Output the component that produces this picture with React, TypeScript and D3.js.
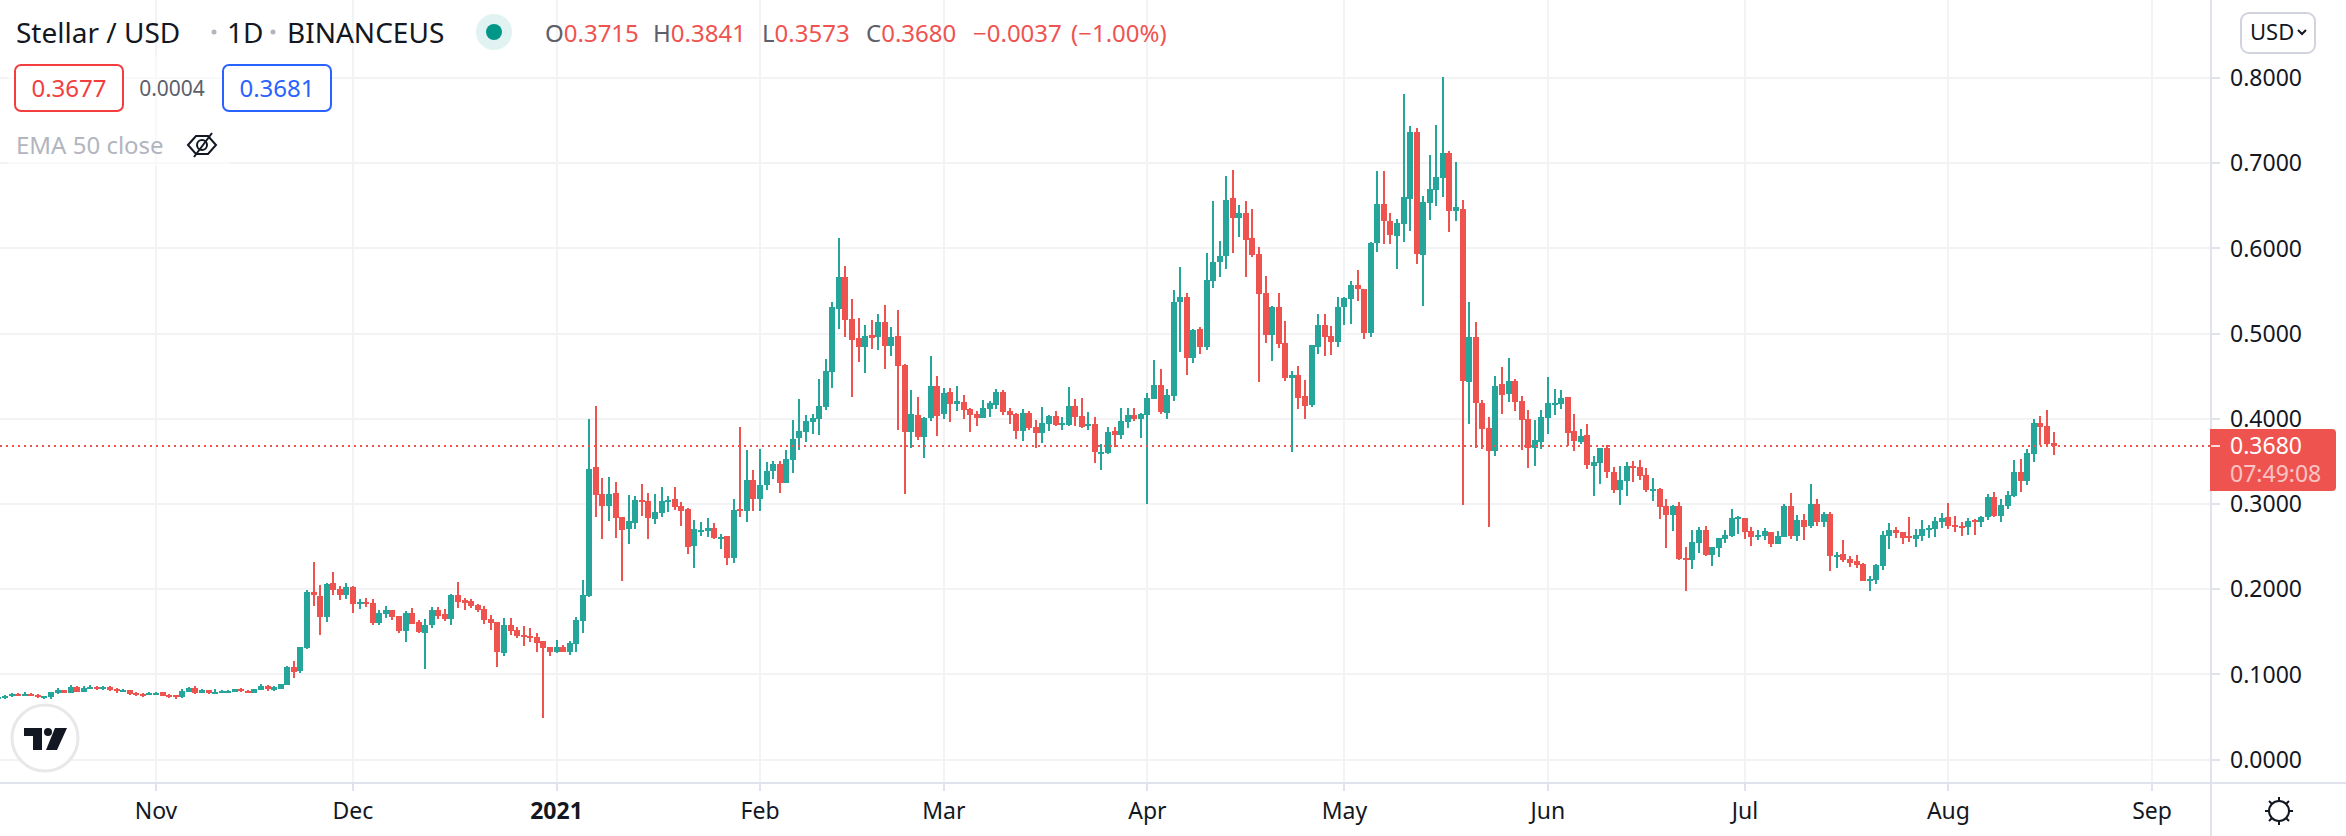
import React from "react";
import * as d3 from "d3";

type Bar = [number, number, number, number];

// Daily [open, high, low, close], month by month.
const oct2020: Bar[] = [
  [.0718,.0735,.0706,.0729],[.0718,.0753,.0706,.0741],[.0741,.0776,.0729,.0765],[.0765,.0776,.0741,.0753],[.0753,.0788,.0741,.0765],[.0765,.0776,.0741,.0753],
  [.0753,.0765,.0718,.0729],[.0718,.0741,.0706,.0741],[.0729,.0788,.0706,.0788],[.0776,.0835,.0765,.0812],[.0812,.0812,.0776,.0776],[.0776,.0871,.0776,.0847],
  [.0847,.0859,.0788,.0788],[.0788,.0859,.0788,.0835],[.0824,.0871,.0824,.0847],[.0847,.0859,.0812,.0824],[.0824,.0859,.0812,.0847],[.0847,.0859,.0800,.0812],
  [.0824,.0835,.0776,.0800],[.0788,.0824,.0788,.0812],[.0812,.0812,.0753,.0765],[.0776,.0788,.0741,.0753],[.0765,.0776,.0729,.0753],[.0753,.0788,.0753,.0776],
];
const nov2020: Bar[] = [
  [.0765,.0788,.0753,.0776],[.0788,.0788,.0741,.0741],[.0753,.0765,.0718,.0741],[.0753,.0753,.0706,.0729],[.0729,.0824,.0718,.0800],[.0788,.0847,.0788,.0835],
  [.0835,.0859,.0765,.0776],[.0776,.0824,.0776,.0812],[.0812,.0812,.0765,.0776],[.0776,.0824,.0765,.0788],[.0776,.0812,.0776,.0800],[.0788,.0812,.0776,.0800],
  [.0788,.0824,.0788,.0824],[.0824,.0835,.0788,.0800],[.0800,.0812,.0776,.0788],[.0776,.0824,.0776,.0824],[.0812,.0882,.0812,.0859],[.0859,.0871,.0800,.0824],
  [.0812,.0859,.0800,.0847],[.0824,.0882,.0824,.0882],[.0871,.1094,.0871,.1082],[.1082,.1153,.0953,.1024],[.1035,.1318,.1012,.1318],[.1306,.1988,.1294,.1965],
  [.1965,.2318,.1800,.1929],[.1918,.2047,.1459,.1671],[.1671,.2071,.1612,.2059],[.2071,.2200,.1929,.1988],[.2000,.2035,.1871,.1929],[.1929,.2071,.1882,.2024],
];
const dec2020: Bar[] = [
  [.2024,.2035,.1718,.1824],[.1824,.1882,.1765,.1847],[.1847,.1894,.1788,.1835],[.1835,.1882,.1576,.1600],[.1600,.1753,.1576,.1718],[.1706,.1800,.1659,.1753],
  [.1753,.1753,.1635,.1671],[.1682,.1682,.1482,.1506],[.1506,.1741,.1376,.1718],[.1718,.1776,.1588,.1588],[.1612,.1635,.1482,.1494],[.1482,.1647,.1059,.1576],
  [.1576,.1788,.1541,.1753],[.1753,.1788,.1647,.1682],[.1706,.1765,.1624,.1647],[.1647,.1941,.1576,.1929],[.1929,.2082,.1776,.1847],[.1871,.1894,.1753,.1835],
  [.1859,.1882,.1776,.1800],[.1812,.1824,.1729,.1753],[.1765,.1800,.1588,.1635],[.1647,.1694,.1518,.1600],[.1612,.1612,.1082,.1259],[.1247,.1659,.1212,.1576],
  [.1576,.1659,.1459,.1506],[.1518,.1553,.1424,.1447],[.1459,.1565,.1329,.1435],[.1447,.1541,.1376,.1424],[.1435,.1482,.1259,.1365],[.1388,.1388,.0482,.1306],
  [.1318,.1318,.1212,.1259],
];
const jan2021: Bar[] = [
  [.1259,.1400,.1247,.1318],[.1318,.1341,.1259,.1259],[.1259,.1388,.1224,.1365],[.1353,.1671,.1259,.1635],[.1624,.2106,.1482,.1929],[.1918,.4000,.1906,.3412],
  [.3435,.4153,.2847,.3106],[.3118,.3306,.2588,.2976],[.2976,.3318,.2800,.3118],[.3129,.3259,.2600,.2835],[.2847,.2847,.2094,.2694],[.2706,.3106,.2529,.2800],
  [.2776,.3094,.2706,.3047],[.3047,.3235,.2859,.3024],[.3035,.3129,.2588,.2835],[.2824,.3118,.2765,.2906],[.2894,.3200,.2847,.3035],[.3024,.3094,.2906,.3047],
  [.3059,.3200,.2929,.2965],[.2976,.3024,.2741,.2918],[.2941,.2953,.2412,.2494],[.2506,.2812,.2247,.2706],[.2682,.2788,.2624,.2694],[.2682,.2835,.2612,.2718],
  [.2718,.2776,.2588,.2600],[.2600,.2647,.2471,.2612],[.2624,.2624,.2282,.2365],[.2365,.3059,.2306,.2929],[.2941,.3906,.2847,.2918],[.2918,.3635,.2788,.3282],
  [.3282,.3400,.2918,.3059],
];
const feb2021: Bar[] = [
  [.3059,.3647,.2918,.3224],[.3224,.3494,.3165,.3388],[.3388,.3506,.3294,.3471],[.3471,.3506,.3129,.3247],[.3247,.3635,.3247,.3529],[.3518,.3988,.3365,.3765],
  [.3776,.4235,.3635,.3859],[.3847,.4047,.3729,.3976],[.3965,.4059,.3824,.4012],[.4000,.4471,.3812,.4153],[.4141,.4706,.4106,.4565],[.4553,.5376,.4365,.5306],
  [.5294,.6118,.5059,.5659],[.5659,.5788,.4965,.5165],[.5176,.5400,.4259,.4929],[.4953,.5188,.4671,.4847],[.4847,.5106,.4541,.4976],[.4988,.5165,.4824,.4953],
  [.4965,.5224,.4812,.5141],[.5141,.5341,.4588,.4859],[.4859,.5082,.4741,.4965],[.4976,.5271,.3871,.4624],[.4635,.4647,.3118,.3847],[.3847,.4341,.3659,.4059],
  [.4047,.4259,.3753,.3788],[.3788,.4024,.3541,.4012],[.4012,.4741,.3976,.4388],[.4388,.4506,.3800,.4035],
];
const mar2021: Bar[] = [
  [.4059,.4365,.4000,.4306],[.4318,.4365,.3965,.4176],[.4176,.4388,.4094,.4212],[.4200,.4282,.4000,.4106],[.4118,.4129,.3847,.4047],[.4059,.4094,.3918,.4012],
  [.4012,.4224,.4012,.4129],[.4118,.4212,.4024,.4188],[.4165,.4353,.4118,.4318],[.4318,.4341,.4047,.4082],[.4094,.4129,.3941,.4047],[.4059,.4071,.3765,.3859],
  [.3859,.4118,.3741,.4071],[.4071,.4094,.3871,.3894],[.3906,.3988,.3659,.3835],[.3835,.4141,.3718,.3953],[.3941,.4047,.3859,.4035],[.4035,.4094,.3918,.3929],
  [.3929,.4024,.3871,.3953],[.3929,.4376,.3918,.4153],[.4153,.4235,.3918,.4024],[.4035,.4247,.3894,.3906],[.3918,.4082,.3871,.3941],[.3941,.4024,.3482,.3612],
  [.3600,.3706,.3400,.3612],[.3600,.3906,.3588,.3847],[.3859,.3906,.3671,.3812],[.3812,.4129,.3765,.3976],[.3965,.4129,.3894,.4047],[.4047,.4129,.3976,.4000],
  [.4000,.4071,.3776,.4059],
];
const apr2021: Bar[] = [
  [.4047,.4306,.3000,.4247],[.4235,.4694,.4235,.4400],[.4400,.4588,.4059,.4082],[.4071,.4353,.4000,.4282],[.4271,.5506,.4212,.5376],[.5365,.5776,.4788,.5424],
  [.5424,.5471,.4518,.4718],[.4718,.5059,.4659,.5047],[.5059,.5082,.4765,.4847],[.4847,.5941,.4812,.5624],[.5612,.6553,.5529,.5835],[.5835,.6082,.5659,.5906],
  [.5906,.6847,.5753,.6565],[.6588,.6918,.5941,.6353],[.6353,.6506,.6129,.6412],[.6412,.6553,.5659,.6094],[.6118,.6459,.5894,.5918],[.5929,.6012,.4435,.5459],
  [.5471,.5671,.4894,.4988],[.4988,.5329,.4682,.5306],[.5306,.5471,.4835,.4882],[.4894,.5153,.4447,.4482],[.4482,.4565,.3612,.4518],[.4518,.4624,.4118,.4247],
  [.4271,.4459,.4000,.4153],[.4165,.4871,.4141,.4871],[.4847,.5235,.4765,.5106],[.5106,.5235,.4741,.4965],[.4976,.5094,.4753,.4906],[.4906,.5424,.4847,.5306],
];
const may2021: Bar[] = [
  [.5306,.5424,.5106,.5412],[.5400,.5612,.5118,.5565],[.5565,.5741,.5388,.5518],[.5518,.5518,.4941,.5012],[.5012,.6071,.4965,.6059],[.6059,.6906,.5953,.6518],
  [.6518,.6906,.6047,.6318],[.6318,.6412,.6047,.6153],[.6141,.6341,.5753,.6294],[.6282,.7812,.6071,.6600],[.6576,.7435,.6200,.7365],[.7365,.7412,.5812,.5929],
  [.5918,.6612,.5318,.6541],[.6529,.7094,.6329,.6694],[.6682,.7447,.6494,.6835],[.6824,.8012,.6600,.7118],[.7118,.7141,.6188,.6435],[.6435,.7012,.6318,.6482],
  [.6459,.6565,.2988,.4447],[.4435,.5365,.3941,.4965],[.4965,.5141,.3659,.4188],[.4188,.4224,.3647,.3882],[.3894,.4024,.2729,.3624],[.3624,.4506,.3565,.4388],
  [.4412,.4612,.4059,.4282],[.4294,.4718,.4200,.4447],[.4447,.4471,.4094,.4200],[.4212,.4271,.3635,.3988],[.4000,.4106,.3424,.3659],[.3659,.3988,.3447,.3753],
  [.3729,.4106,.3647,.4024],
];
const jun2021: Bar[] = [
  [.4012,.4494,.3824,.4188],[.4176,.4353,.4047,.4188],[.4176,.4341,.4118,.4247],[.4259,.4259,.3682,.3835],[.3859,.4059,.3624,.3741],[.3729,.3882,.3706,.3800],
  [.3812,.3941,.3412,.3459],[.3447,.3565,.3094,.3494],[.3482,.3659,.3235,.3659],[.3659,.3694,.3306,.3376],[.3376,.3435,.3129,.3165],[.3165,.3447,.2988,.3282],
  [.3271,.3494,.3094,.3447],[.3447,.3506,.3259,.3424],[.3435,.3518,.3282,.3329],[.3341,.3424,.3141,.3165],[.3165,.3306,.3035,.3176],[.3176,.3188,.2824,.2965],
  [.2976,.3059,.2482,.2871],[.2871,.2988,.2682,.2976],[.2976,.3024,.2341,.2353],[.2365,.2494,.1976,.2341],[.2341,.2694,.2235,.2553],[.2541,.2729,.2424,.2694],
  [.2694,.2741,.2388,.2400],[.2400,.2494,.2271,.2494],[.2482,.2600,.2376,.2600],[.2588,.2694,.2541,.2635],[.2624,.2941,.2612,.2835],[.2835,.2859,.2647,.2847],
];
const jul2021: Bar[] = [
  [.2835,.2835,.2588,.2671],[.2682,.2729,.2506,.2612],[.2612,.2694,.2576,.2635],[.2624,.2718,.2576,.2682],[.2671,.2671,.2494,.2529],[.2529,.2682,.2529,.2624],
  [.2612,.3000,.2612,.2976],[.2976,.3129,.2588,.2624],[.2624,.2871,.2565,.2812],[.2812,.2882,.2576,.2729],[.2741,.3235,.2718,.3000],[.3000,.3059,.2741,.2788],
  [.2788,.2906,.2729,.2882],[.2882,.2906,.2212,.2388],[.2388,.2435,.2247,.2400],[.2412,.2576,.2318,.2341],[.2353,.2388,.2259,.2306],[.2329,.2400,.2247,.2282],
  [.2294,.2306,.2094,.2094],[.2106,.2153,.1976,.2118],[.2106,.2294,.2059,.2282],[.2271,.2682,.2224,.2635],[.2624,.2776,.2471,.2694],[.2694,.2729,.2600,.2659],
  [.2671,.2671,.2529,.2600],[.2624,.2847,.2553,.2600],[.2588,.2706,.2494,.2635],[.2624,.2812,.2565,.2706],[.2706,.2753,.2600,.2718],[.2706,.2847,.2612,.2800],
  [.2788,.2894,.2718,.2835],
];
const aug2021: Bar[] = [
  [.2847,.3012,.2706,.2741],[.2753,.2859,.2671,.2741],[.2741,.2788,.2624,.2729],[.2729,.2835,.2635,.2800],[.2812,.2824,.2635,.2800],[.2788,.2859,.2729,.2847],
  [.2847,.3118,.2812,.3082],[.3082,.3141,.2847,.2859],[.2859,.3059,.2788,.2988],[.2976,.3153,.2941,.3106],[.3094,.3518,.3082,.3376],[.3376,.3529,.3141,.3271],
  [.3271,.3647,.3224,.3600],[.3588,.4000,.3494,.3953],[.3953,.4035,.3694,.3906],[.3918,.4106,.3694,.3706],[.3715,.3841,.3573,.3680],
];

const firstDay = new Date(Date.UTC(2020, 9, 8));
const priceTicks = [0, 0.1, 0.2, 0.3, 0.4, 0.5, 0.6, 0.7, 0.8];
const monthTicks: [Date, string, boolean][] = [
  [new Date(Date.UTC(2020, 10, 1)), "Nov", false],
  [new Date(Date.UTC(2020, 11, 1)), "Dec", false],
  [new Date(Date.UTC(2021, 0, 1)), "2021", true],
  [new Date(Date.UTC(2021, 1, 1)), "Feb", false],
  [new Date(Date.UTC(2021, 2, 1)), "Mar", false],
  [new Date(Date.UTC(2021, 3, 1)), "Apr", false],
  [new Date(Date.UTC(2021, 4, 1)), "May", false],
  [new Date(Date.UTC(2021, 5, 1)), "Jun", false],
  [new Date(Date.UTC(2021, 6, 1)), "Jul", false],
  [new Date(Date.UTC(2021, 7, 1)), "Aug", false],
  [new Date(Date.UTC(2021, 8, 1)), "Sep", false],
];
const lastPrice = 0.368;

const UP = "#26a69a";
const DOWN = "#ef5350";
const GRID = "#f2f3f5";
const AXIS = "#e0e3eb";
const INK = "#131722";
const FONT = "'Noto Sans', sans-serif";

const AXIS_X = 2211;
const AXIS_Y = 783;

const bars = [oct2020, nov2020, dec2020, jan2021, feb2021, mar2021, apr2021, may2021, jun2021, jul2021, aug2021]
  .flat()
  .map(([o, h, l, c], i) => ({ date: d3.utcDay.offset(firstDay, i), o, h, l, c }));

const x = d3
  .scaleUtc()
  .domain([new Date(Date.UTC(2020, 10, 1)), new Date(Date.UTC(2021, 8, 1))])
  .range([156, 2152]);
const y = d3.scaleLinear().domain([0, 0.8]).range([759.5, 78]);

const priceFmt = d3.format(".4f");

export default function App() {
  const lastY = Math.round(y(lastPrice));
  return (
    <svg
      width={2346}
      height={836}
      viewBox="0 0 2346 836"
      style={{ position: "absolute", left: 0, top: 0, display: "block", background: "#fff" }}
      fontFamily={FONT}
    >
      <g shapeRendering="crispEdges">
        {priceTicks.map((t) => (
          <rect key={t} x={0} y={Math.round(y(t)) - 1} width={AXIS_X} height={2} fill={GRID} />
        ))}
        {monthTicks.map(([d]) => (
          <rect key={+d} x={Math.round(x(d)) - 1} y={0} width={2} height={AXIS_Y} fill={GRID} />
        ))}
      </g>

      {/* candles */}
      <g shapeRendering="crispEdges">
        {bars.map((b) => {
          const cx = Math.round(x(b.date));
          const col = b.c >= b.o ? UP : DOWN;
          const top = y(Math.max(b.o, b.c));
          const bot = y(Math.min(b.o, b.c));
          return (
            <g key={+b.date} fill={col}>
              <rect x={cx - 1} y={y(b.h)} width={2} height={Math.max(1, y(b.l) - y(b.h))} />
              <rect x={cx - 3} y={top} width={6} height={Math.max(2, bot - top)} />
            </g>
          );
        })}
      </g>

      {/* last price line */}
      <line x1={0} x2={AXIS_X} y1={lastY} y2={lastY} stroke={DOWN} strokeWidth={2} strokeDasharray="2 4" />

      {/* legend veil */}
      <rect x={8} y={56} width={222} height={110} fill="#fff" opacity={0.5} />

      {/* axes */}
      <g shapeRendering="crispEdges">
        <rect x={AXIS_X - 1} y={0} width={2} height={836} fill={AXIS} />
        <rect x={0} y={AXIS_Y - 1} width={2346} height={2} fill={AXIS} />
        {priceTicks.map((t) => (
          <rect key={t} x={AXIS_X} y={Math.round(y(t)) - 1} width={9} height={2} fill={AXIS} />
        ))}
        {monthTicks.map(([d]) => (
          <rect key={+d} x={Math.round(x(d)) - 1} y={AXIS_Y} width={2} height={8} fill={AXIS} />
        ))}
      </g>
      {priceTicks.map((t) => (
        <text key={t} x={2230} y={y(t)} dy="0.36em" fontSize={23} fill={INK}>
          {priceFmt(t)}
        </text>
      ))}
      {monthTicks.map(([d, label, bold]) => (
        <text key={+d} x={x(d)} y={811} dy="0.36em" fontSize={23} textAnchor="middle" fontWeight={bold ? 700 : 400} fill={INK}>
          {label}
        </text>
      ))}

      {/* last price tag */}
      <path d={`M${AXIS_X - 1} 429H2332a4 4 0 0 1 4 4V487a4 4 0 0 1 -4 4H${AXIS_X - 1}Z`} fill={DOWN} />
      <rect x={AXIS_X} y={lastY - 1} width={9} height={2} fill="#fff" opacity={0.8} />
      <text x={2230} y={lastY} dy="0.36em" fontSize={23} fill="#fff">
        {priceFmt(lastPrice)}
      </text>
      <text x={2230} y={474} dy="0.36em" fontSize={23} fill="#fff" opacity={0.65}>
        07:49:08
      </text>

      {/* currency button */}
      <rect x={2241} y={13} width={74} height={40} rx={8} fill="#fff" stroke="#d1d4dc" strokeWidth={2} />
      <text x={2250} y={32} dy="0.36em" fontSize={22} fill={INK}>
        USD
      </text>
      <path d="M2298 30l4 4 4-4" fill="none" stroke={INK} strokeWidth={2} />

      {/* header */}
      <text x={16} y={43} fontSize={28} fill={INK}>
        Stellar / USD
      </text>
      <circle cx={214} cy={32} r={2.5} fill="#b2b5be" />
      <text x={227} y={43} fontSize={28} fill={INK}>
        1D
      </text>
      <circle cx={273} cy={32} r={2.5} fill="#b2b5be" />
      <text x={287} y={43} fontSize={28} fill={INK}>
        BINANCEUS
      </text>
      <circle cx={494} cy={32} r={18} fill="#e0f2f1" />
      <circle cx={494} cy={32} r={8} fill="#009688" />

      {[
        ["O", "0.3715", 545],
        ["H", "0.3841", 653],
        ["L", "0.3573", 762],
        ["C", "0.3680", 866],
      ].map(([k, v, px]) => (
        <text key={k as string} x={px as number} y={42} fontSize={24}>
          <tspan fill="#5d606b">{k}</tspan>
          <tspan fill={DOWN}>{v}</tspan>
        </text>
      ))}
      <text x={973} y={42} fontSize={24} fill={DOWN}>
        −0.0037
      </text>
      <text x={1071} y={42} fontSize={24} fill={DOWN}>
        (−1.00%)
      </text>

      {/* bid / ask */}
      <rect x={15} y={65} width={108} height={46} rx={6} fill="#fff" stroke="#f23e3e" strokeWidth={2} />
      <text x={69} y={88} dy="0.36em" fontSize={24} textAnchor="middle" fill="#f23e3e">
        0.3677
      </text>
      <text x={172} y={88} dy="0.36em" fontSize={21} textAnchor="middle" fill="#5d606b">
        0.0004
      </text>
      <rect x={223} y={65} width={108} height={46} rx={6} fill="#fff" stroke="#2962ff" strokeWidth={2} />
      <text x={277} y={88} dy="0.36em" fontSize={24} textAnchor="middle" fill="#2962ff">
        0.3681
      </text>

      {/* indicator */}
      <text x={16} y={145} dy="0.36em" fontSize={24} fill="#b2b5be">
        EMA 50 close
      </text>
      <g fill="none" stroke={INK} strokeWidth={2}>
        <path d="M188 145l8-9h12l8 9-8 9h-12z" />
        <circle cx={202} cy={145} r={5} />
        <path d="M194 157L212 133" />
      </g>

      {/* logo */}
      <circle cx={45} cy={738} r={33} fill="#fff" stroke="#e8e8e8" strokeWidth={3} />
      <path d="M24 728h18v22h-9v-14h-9z" fill={INK} />
      <circle cx={48} cy={732} r={4} fill={INK} />
      <path d="M55 728h12l-10 22h-11z" fill={INK} />

      {/* settings */}
      <g fill="none" stroke={INK} strokeWidth={2}>
        <circle cx={2279} cy={811} r={10} />
        <path d="M2279 797v4M2279 821v4M2265 811h4M2289 811h4M2269 801l3 3M2286 818l3 3M2269 821l3-3M2286 804l3-3" />
      </g>
    </svg>
  );
}
